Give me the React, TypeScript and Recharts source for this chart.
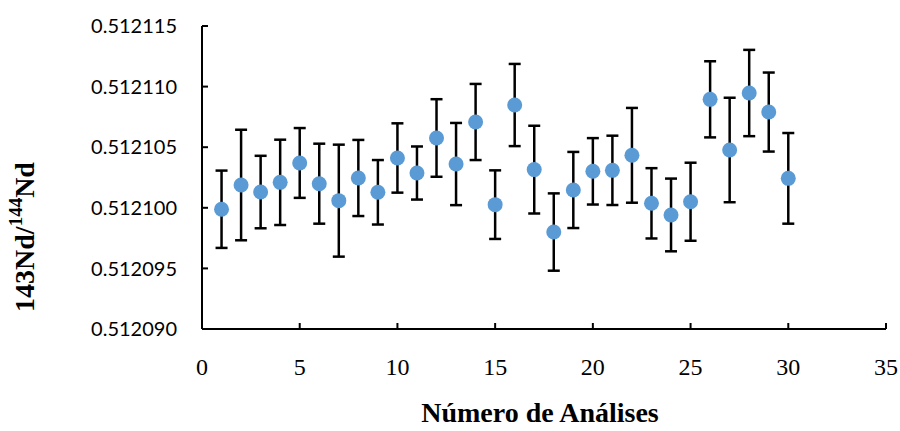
import React from 'react';
import { ScatterChart, Scatter, XAxis, YAxis, ErrorBar } from 'recharts';

const analysisNumbers = [1, 2, 3, 4, 5, 6, 7, 8, 9, 10, 11, 12, 13, 14, 15, 16, 17, 18, 19, 20, 21, 22, 23, 24, 25, 26, 27, 28, 29, 30];
const ratioValues = [
  0.51209988, 0.51210188, 0.5121013, 0.5121021, 0.5121037, 0.51210199, 0.51210059, 0.51210246, 0.51210128, 0.51210411,
  0.51210287, 0.51210576, 0.51210361, 0.51210708, 0.51210026, 0.51210848, 0.51210315, 0.512098, 0.51210147, 0.51210301,
  0.51210309, 0.51210433, 0.51210037, 0.51209941, 0.5121005, 0.51210895, 0.51210477, 0.51210947, 0.5121079, 0.51210243,
];
const ratioErrors = [
  0.00000319, 0.00000456, 0.00000299, 0.00000352, 0.00000288, 0.0000033, 0.00000462, 0.00000314, 0.00000266, 0.00000286,
  0.00000219, 0.0000032, 0.00000339, 0.00000314, 0.00000283, 0.00000339, 0.00000362, 0.00000319, 0.00000314, 0.00000274,
  0.00000286, 0.00000391, 0.0000029, 0.000003, 0.00000322, 0.00000314, 0.00000431, 0.00000356, 0.00000326, 0.00000374,
];
const xTicks = [0, 5, 10, 15, 20, 25, 30, 35];
const yTicks = [0.51209, 0.512095, 0.5121, 0.512105, 0.51211, 0.512115];

const data = analysisNumbers.map((n, i) => ({ n, v: ratioValues[i], err: ratioErrors[i] }));

const XTitle = (props: any) => {
  const vb = props.viewBox || {};
  const cx = (vb.x ?? 202) + (vb.width ?? 684) / 2 - 4;
  const cy = (vb.y ?? 329) + 83;
  return (
    <text x={cx} y={cy} textAnchor="middle" dominantBaseline="central"
      style={{ fontFamily: '"Liberation Serif", "Times New Roman", serif', fontWeight: 'bold', fontSize: 28, fill: '#000' }}>
      Número de Análises
    </text>
  );
};

const YTitle = () => {
  const cx = 24;
  const cy = 237;
  return (
    <text x={cx} y={cy} textAnchor="middle" dominantBaseline="central" transform={`rotate(-90, ${cx}, ${cy})`}
      style={{ fontFamily: '"Liberation Serif", "Times New Roman", serif', fontWeight: 'bold', fontSize: 28, fill: '#000' }}>
      143Nd/<tspan dy={-9} fontSize={19}>144</tspan><tspan dy={9}>Nd</tspan>
    </text>
  );
};

export default function App() {
  return (
    <div style={{ position: 'absolute', left: 0, top: 0, background: '#fff' }}>
      <ScatterChart width={900} height={431} margin={{ top: 26, right: 14, left: 0, bottom: 0 }}>
        <XAxis
          type="number"
          dataKey="n"
          domain={[0, 35]}
          ticks={xTicks}
          interval={0}
          height={102}
          axisLine={{ stroke: '#000', strokeWidth: 2 }}
          tickLine={{ stroke: '#000', strokeWidth: 2 }}
          tickSize={-6}
          tickMargin={35}
          tick={{ fill: '#000', fontSize: 24, fontFamily: '"Liberation Serif", "Times New Roman", serif' }}
          label={<XTitle />}
        />
        <YAxis
          type="number"
          dataKey="v"
          domain={[0.51209, 0.512115]}
          allowDataOverflow
          ticks={yTicks}
          interval={0}
          width={202}
          axisLine={{ stroke: '#000', strokeWidth: 2 }}
          tickLine={{ stroke: '#000', strokeWidth: 2 }}
          tickSize={-6}
          tickMargin={31}
          tickFormatter={(v: number) => v.toFixed(6)}
          tick={{ fill: '#000', fontSize: 20, fontFamily: 'Lato, "Open Sans", sans-serif' }}
          label={<YTitle />}
        />
        <Scatter data={data} fill="#5B9BD5" isAnimationActive={false}
          shape={(p: any) => <circle cx={p.cx} cy={p.cy} r={7.5} fill="#5B9BD5" />}>
          <ErrorBar dataKey="err" direction="y" width={6} stroke="#000" strokeWidth={2.5} isAnimationActive={false} />
        </Scatter>
      </ScatterChart>
    </div>
  );
}
